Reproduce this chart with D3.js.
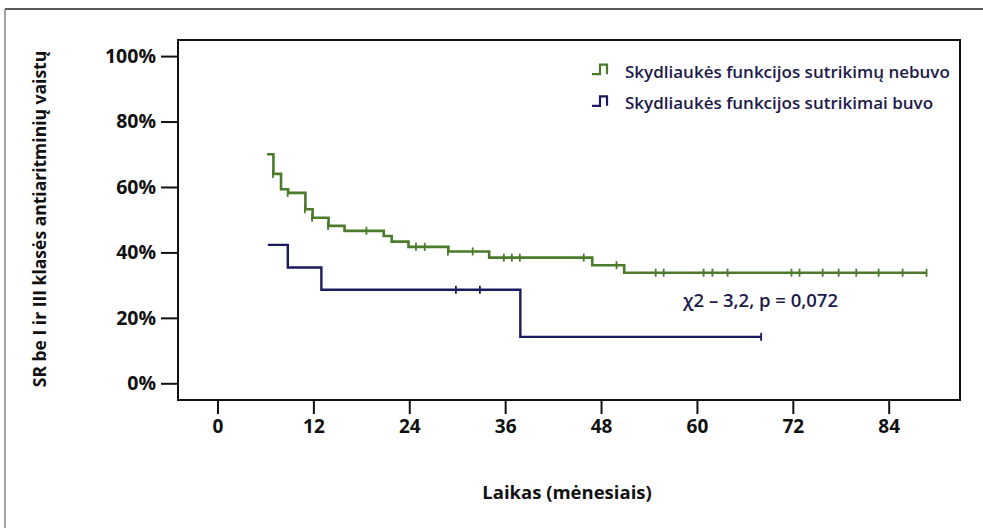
<!DOCTYPE html>
<html>
<head>
<meta charset="utf-8">
<script src="https://cdn.jsdelivr.net/npm/d3@7"></script>
<style>
  html, body { margin: 0; padding: 0; background: #fff; }
  svg { display: block; }
  text { font-family: "Open Sans", "Noto Sans", sans-serif; }
</style>
</head>
<body>
<svg id="chart" width="983" height="528"></svg>
<script>
// Kaplan–Meier survival steps, group without thyroid dysfunction
const noDysfunctionTime = [6.2, 7.0, 7.95, 8.85, 11.0, 11.9, 13.9, 15.9, 20.8, 21.8, 23.9, 28.9, 34.0, 46.9, 50.9, 88.8];
const noDysfunctionSurv = [70.0, 64.0, 59.3, 58.2, 53.2, 50.6, 48.1, 46.6, 45.0, 43.3, 41.7, 40.3, 38.4, 36.1, 33.8, 33.8];
const noDysfunctionCensor = [7.0, 8.85, 11.0, 11.9, 13.9, 18.7, 24.9, 26.0, 28.9, 32.0, 35.9, 36.9, 37.9, 45.9, 50.0,
  54.9, 55.9, 60.9, 62.0, 63.9, 71.9, 72.9, 75.8, 77.8, 80.0, 82.8, 85.8, 88.8];

// Group with thyroid dysfunction
const dysfunctionTime = [6.3, 8.8, 13.0, 37.9, 68.1];
const dysfunctionSurv = [42.3, 35.4, 28.6, 14.2, 14.2];
const dysfunctionCensor = [29.9, 32.9, 68.1];

const xTicks = [0, 12, 24, 36, 48, 60, 72, 84];
const yTicks = [0, 20, 40, 60, 80, 100];

const seriesNames = ["Skydliaukės funkcijos sutrikimų nebuvo", "Skydliaukės funkcijos sutrikimai buvo"];
const seriesColors = ["#4b7a2a", "#1c1a5e"];
const statText = "χ2 – 3,2, p = 0,072";
const xTitle = "Laikas (mėnesiais)";
const yTitle = "SR be I ir III klasės antiaritminių vaistų";

const svg = d3.select("#chart");

// outer frame lines
svg.append("line").attr("x1", 5).attr("x2", 983).attr("y1", 9).attr("y2", 9)
  .attr("stroke", "#222").attr("stroke-width", 1.6);
svg.append("line").attr("x1", 5).attr("x2", 5).attr("y1", 9).attr("y2", 528)
  .attr("stroke", "#666").attr("stroke-width", 1.2);

const box = { left: 178, top: 40, right: 960, bottom: 400 };

const x = d3.scaleLinear().domain([0, 84]).range([217.5, 888.7]);
const y = d3.scaleLinear().domain([0, 100]).range([383.3, 56.1]);

// plot frame
svg.append("rect")
  .attr("x", box.left).attr("y", box.top)
  .attr("width", box.right - box.left).attr("height", box.bottom - box.top)
  .attr("fill", "none").attr("stroke", "#111").attr("stroke-width", 2);

// y axis (ticks outside the frame on the left)
const yAxis = d3.axisLeft(y).tickValues(yTicks).tickFormat(d => d + "%").tickSize(17).tickPadding(5);
const gy = svg.append("g").attr("transform", `translate(${box.left},0)`).call(yAxis);
gy.select(".domain").remove();
gy.selectAll(".tick line").attr("stroke", "#111").attr("stroke-width", 2);
gy.selectAll(".tick text").attr("fill", "#111").attr("font-size", 19.5).attr("font-weight", 700)
  .attr("font-family", "'Open Sans', sans-serif");

// x axis (ticks below the frame)
const xAxis = d3.axisBottom(x).tickValues(xTicks).tickSize(14).tickPadding(6);
const gx = svg.append("g").attr("transform", `translate(0,${box.bottom})`).call(xAxis);
gx.select(".domain").remove();
gx.selectAll(".tick line").attr("stroke", "#111").attr("stroke-width", 2);
gx.selectAll(".tick text").attr("fill", "#111").attr("font-size", 19).attr("font-weight", 700)
  .attr("font-family", "'Open Sans', sans-serif");

// axis titles
svg.append("text").text(xTitle)
  .attr("x", 567).attr("y", 499).attr("text-anchor", "middle")
  .attr("font-size", 18.5).attr("font-weight", 700).attr("fill", "#111");
svg.append("text").text(yTitle)
  .attr("transform", "translate(46,219) rotate(-90)")
  .attr("text-anchor", "middle")
  .attr("font-size", 17.5).attr("font-weight", 700).attr("fill", "#111");

// step curves
function stepPoints(times, surv) {
  return times.map((t, i) => [t, surv[i]]);
}
function survAt(times, surv, t) {
  let v = surv[0];
  for (let i = 0; i < times.length; i++) if (times[i] <= t + 1e-9) v = surv[i];
  return v;
}
const line = d3.line().x(d => x(d[0])).y(d => y(d[1])).curve(d3.curveStepAfter);

const groups = [
  { time: noDysfunctionTime, surv: noDysfunctionSurv, censor: noDysfunctionCensor, color: seriesColors[0], w: 2.6 },
  { time: dysfunctionTime, surv: dysfunctionSurv, censor: dysfunctionCensor, color: seriesColors[1], w: 2.4 }
];

groups.forEach(g => {
  svg.append("path")
    .attr("d", line(stepPoints(g.time, g.surv)))
    .attr("fill", "none").attr("stroke", g.color).attr("stroke-width", g.w);
  svg.append("g").selectAll("line").data(g.censor).join("line")
    .attr("x1", d => x(d) - 0.5).attr("x2", d => x(d) - 0.5)
    .attr("y1", d => y(survAt(g.time, g.surv, d)) - 4)
    .attr("y2", d => y(survAt(g.time, g.surv, d)) + 4)
    .attr("stroke", g.color).attr("stroke-width", 1.8);
});

// legend
const legend = svg.append("g");
seriesNames.forEach((name, i) => {
  const cy = 71.7 + i * 31.6;
  legend.append("path")
    .attr("d", `M592,${cy + 2.5}H600V${cy - 7}H607V${cy + 2.5}`)
    .attr("fill", "none").attr("stroke", seriesColors[i]).attr("stroke-width", 2.2);
  legend.append("text").text(name)
    .attr("x", 625).attr("y", cy).attr("dy", "0.36em")
    .attr("font-size", 17).attr("font-weight", 600).attr("fill", "#1c1a4a");
});

// log-rank test result
svg.append("text").text(statText)
  .attr("x", 683).attr("y", 300.7).attr("dy", "0.36em")
  .attr("font-size", 18.5).attr("font-weight", 600).attr("fill", "#1c1a4a");
</script>
</body>
</html>
